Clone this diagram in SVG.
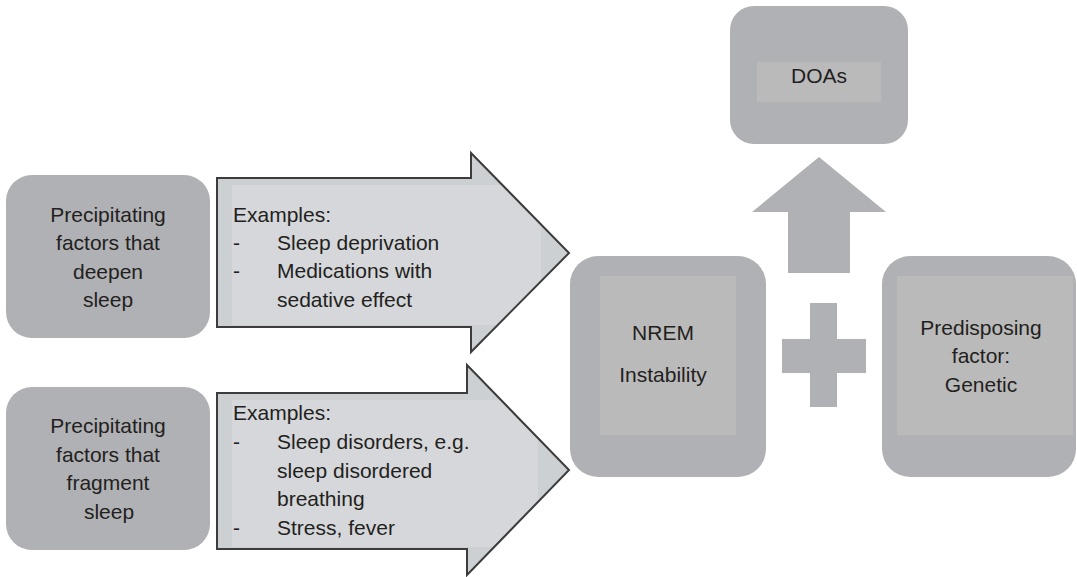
<svg xmlns="http://www.w3.org/2000/svg" width="1077" height="577" viewBox="0 0 1077 577">
<style>
.box{fill:#b0b1b4}
.inner{fill:#bababb}
.afill{fill:#cdd0d3}
.astroke{fill:none;stroke:#3c3c3c;stroke-width:2;stroke-linejoin:miter}
.arrin{fill:#d5d7da}
.blk{fill:#b0b1b4}
text{font-family:"Liberation Sans",Arial,sans-serif;font-size:21px;fill:#231f20}
.c{text-anchor:middle}
</style>
<defs>
<polygon id="a1" points="217,178 471,178 471,153 569,253 471,352 471,327 217,327"/>
<polygon id="a2" points="217,393 467,393 467,365 569,470 467,575 467,549 217,549"/>
<clipPath id="c1"><use href="#a1"/></clipPath>
<clipPath id="c2"><use href="#a2"/></clipPath>
</defs>
<rect width="1077" height="577" fill="#ffffff"/>
<g id="connectors">
<g id="arrow1">
<use href="#a1" class="afill"/>
<rect class="arrin" x="232" y="185" width="309" height="140" clip-path="url(#c1)"/>
<use href="#a1" class="astroke"/>
</g>
<g id="arrow2">
<use href="#a2" class="afill"/>
<rect class="arrin" x="232" y="400" width="306" height="147" clip-path="url(#c2)"/>
<use href="#a2" class="astroke"/>
</g>
<polygon id="uparrow" class="blk" points="819,157 886,212 850,212 850,273 788,273 788,212 752,212"/>
<path id="plus" class="blk" d="M810,303H837V339H866V373H837V407H810V373H782V339H810Z"/>
</g>
<g id="arrow1-text">
<text x="233" y="222">Examples:</text>
<text x="233" y="250">-</text><text x="277" y="250">Sleep deprivation</text>
<text x="233" y="278">-</text><text x="277" y="278">Medications with</text>
<text x="277" y="307">sedative effect</text>
</g>
<g id="arrow2-text">
<text x="233" y="420">Examples:</text>
<text x="233" y="449">-</text><text x="277" y="449">Sleep disorders, e.g.</text>
<text x="277" y="478">sleep disordered</text>
<text x="277" y="506">breathing</text>
<text x="233" y="535">-</text><text x="277" y="535">Stress, fever</text>
</g>
<g id="node-deepen">
<rect class="box" x="6" y="175" width="204" height="163" rx="26"/>
<text class="c" x="108" y="222">Precipitating</text>
<text class="c" x="108" y="250">factors that</text>
<text class="c" x="108" y="279">deepen</text>
<text class="c" x="108" y="307">sleep</text>
</g>
<g id="node-fragment">
<rect class="box" x="6" y="387" width="204" height="163" rx="26"/>
<text class="c" x="108" y="433">Precipitating</text>
<text class="c" x="108" y="462">factors that</text>
<text class="c" x="108" y="490">fragment</text>
<text class="c" x="109" y="519">sleep</text>
</g>
<g id="node-doas">
<rect class="box" x="730" y="6" width="178" height="138" rx="24"/>
<rect class="inner" x="757" y="62" width="124" height="40"/>
<text class="c" x="819" y="83">DOAs</text>
</g>
<g id="node-nrem">
<rect class="box" x="570" y="256" width="196" height="221" rx="28"/>
<rect class="inner" x="600" y="276" width="136" height="159"/>
<text class="c" x="663" y="340">NREM</text>
<text class="c" x="663" y="382">Instability</text>
</g>
<g id="node-genetic">
<rect class="box" x="882" y="256" width="194" height="221" rx="28"/>
<rect class="inner" x="897" y="276" width="176" height="159"/>
<text class="c" x="981" y="335">Predisposing</text>
<text class="c" x="981" y="363">factor:</text>
<text class="c" x="981" y="392">Genetic</text>
</g>
</svg>
